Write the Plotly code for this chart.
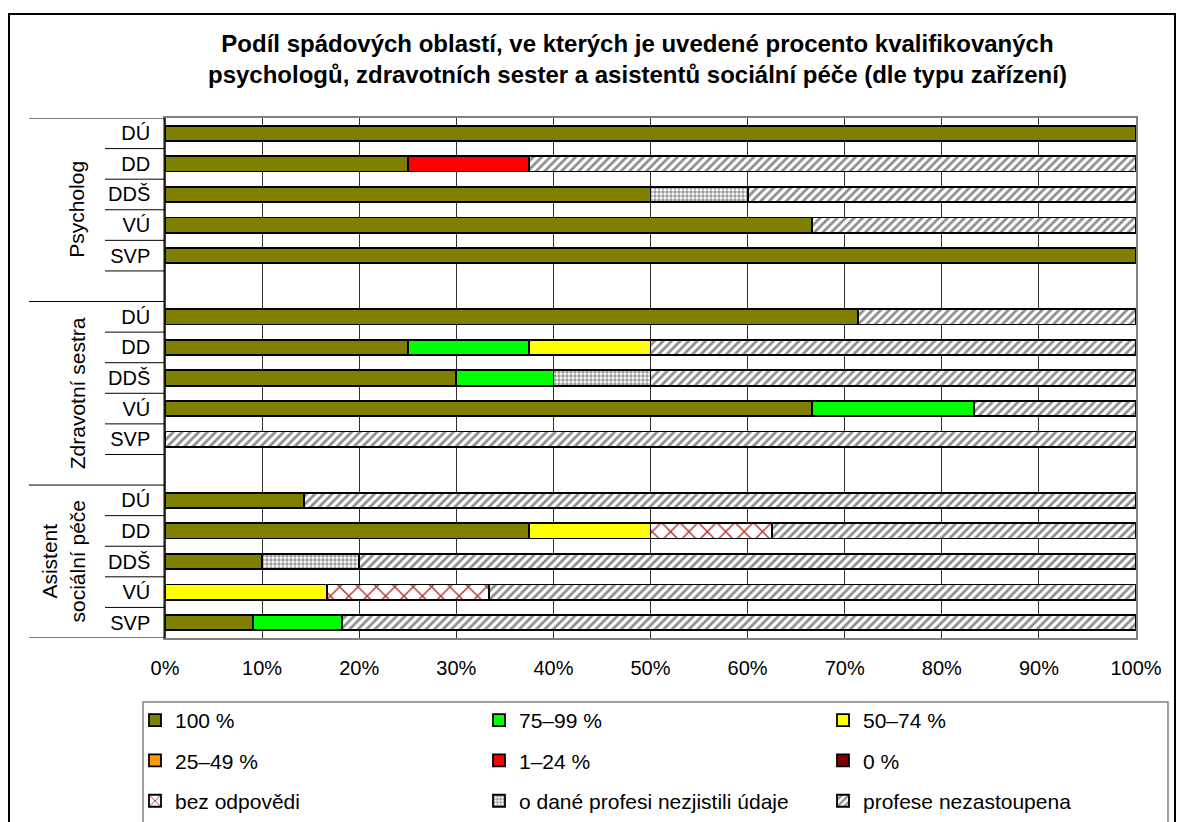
import plotly.graph_objects as go

# ---------------- data ----------------
categories = ["DÚ", "DD", "DDŠ", "VÚ", "SVP"]
groups = ["Psycholog", "Zdravotní sestra", "Asistent<br>sociální péče"]

series_names = ["100 %", "75–99 %", "50–74 %", "25–49 %", "1–24 %", "0 %",
                "bez odpovědi", "o dané profesi nezjistili údaje", "profese nezastoupena"]

# values in %, order: Psycholog (DÚ..SVP), Zdravotní sestra (DÚ..SVP), Asistent (DÚ..SVP)
v_100 = [100, 25, 50, 66.67, 100,   71.4, 25, 30, 66.67, 0,   14.3, 37.5, 10, 0, 9.1]
v_75 = [0, 0, 0, 0, 0,             0, 12.5, 10, 16.67, 0,    0, 0, 0, 0, 9.1]
v_50 = [0, 0, 0, 0, 0,             0, 12.5, 0, 0, 0,         0, 12.5, 0, 16.67, 0]
v_25 = [0, 0, 0, 0, 0,             0, 0, 0, 0, 0,            0, 0, 0, 0, 0]
v_1 = [0, 12.5, 0, 0, 0,           0, 0, 0, 0, 0,            0, 0, 0, 0, 0]
v_0 = [0, 0, 0, 0, 0,              0, 0, 0, 0, 0,            0, 0, 0, 0, 0]
v_bez = [0, 0, 0, 0, 0,            0, 0, 0, 0, 0,            0, 12.5, 0, 16.67, 0]
v_nezjist = [0, 0, 10, 0, 0,       0, 0, 10, 0, 0,           0, 0, 10, 0, 0]
v_nezast = [0, 62.5, 40, 33.33, 0, 28.6, 50, 50, 16.66, 100, 85.7, 37.5, 80, 66.66, 81.8]

x_ticks = [0, 10, 20, 30, 40, 50, 60, 70, 80, 90, 100]
x_ticktext = ["0%", "10%", "20%", "30%", "40%", "50%", "60%", "70%", "80%", "90%", "100%"]

series_values = [v_100, v_75, v_50, v_25, v_1, v_0, v_bez, v_nezjist, v_nezast]

# ---------------- styling ----------------
FONT = "Liberation Sans, Arial, sans-serif"
solid_colors = ["#808000", "#00FF00", "#FFFF00", "#FF9900", "#FF0000", "#800000"]
patterns = [
    dict(shape="x", fgcolor="#B83838", bgcolor="white", size=13, solidity=0.22, fillmode="replace"),
    dict(shape=".", fgcolor="#9A9A9A", bgcolor="white", size=4, solidity=0.55, fillmode="replace"),
    dict(shape="/", fgcolor="#8C8C8C", bgcolor="white", size=6, solidity=0.45, fillmode="replace"),
]
legend_of = ["legend", "legend2", "legend3"] * 3

# rows: each group 5 categories + an empty row between groups
rows = []
ticktext = []
for g in range(3):
    for i, c in enumerate(categories):
        rows.append(g * 6 + i)
        ticktext.append(c)

fig = go.Figure()
for k, (name, vals) in enumerate(zip(series_names, series_values)):
    if k < 6:
        marker = dict(color=solid_colors[k], line=dict(color="black", width=1.8))
    else:
        marker = dict(color="white", line=dict(color="black", width=1.8), pattern=patterns[k - 6])
    fig.add_trace(go.Bar(
        y=rows, x=vals, orientation="h", name=name, marker=marker,
        legend=legend_of[k], legendgroup=name, hoverinfo="name+x",
    ))

# ---------------- layout helpers ----------------
OFF = 8  # page body margin
W, H = 1184, 822
L, R, T, B = 157, 56, 110, 192
pw, ph = W - L - R, H - T - B


def px_x(p):
    return (p - OFF - L) / pw


def px_y(p):
    return (H - B - (p - OFF)) / ph


shapes = []
# outer frame
shapes.append(dict(type="rect", xref="paper", yref="paper", x0=px_x(9), x1=px_x(1175),
                   y0=px_y(850), y1=px_y(14), line=dict(color="black", width=2)))
# legend box
shapes.append(dict(type="rect", xref="paper", yref="paper", x0=px_x(143), x1=px_x(1168),
                   y0=px_y(850), y1=px_y(702), line=dict(color="#808080", width=1.5)))
# left axis line (black)
shapes.append(dict(type="line", xref="paper", yref="paper", x0=0, x1=0, y0=0, y1=1,
                   line=dict(color="black", width=1.5)))
# group separators
for yb in [-0.5, 5.5, 11.5, 16.5]:
    shapes.append(dict(type="line", xref="paper", yref="y", x0=px_x(29), x1=0, y0=yb, y1=yb,
                       line=dict(color="black", width=1)))
# category separators
for yb in [0.5, 1.5, 2.5, 3.5, 4.5, 6.5, 7.5, 8.5, 9.5, 10.5, 12.5, 13.5, 14.5, 15.5]:
    shapes.append(dict(type="line", xref="paper", yref="y", x0=px_x(105), x1=0, y0=yb, y1=yb,
                       line=dict(color="black", width=1)))

annotations = []
group_centers = [2.5, 8.5, 14]
group_x = [77, 77, 63]
for gname, gy, gx in zip(groups, group_centers, group_x):
    annotations.append(dict(text=gname, xref="paper", yref="y", x=px_x(gx), y=gy,
                            textangle=-90, showarrow=False, xanchor="center", yanchor="middle",
                            font=dict(family=FONT, size=21, color="black")))
# title
annotations.append(dict(
    text="<b>Podíl spádových oblastí, ve kterých je uvedené procento kvalifikovaných<br>"
         "psychologů, zdravotních sester a asistentů sociální péče (dle typu zařízení)</b>",
    xref="paper", yref="paper", x=px_x(637), y=px_y(28), xanchor="center", yanchor="top",
    align="center", showarrow=False, font=dict(family=FONT, size=24, color="black")))

legend_common = dict(y=px_y(700), yanchor="top", xanchor="left", orientation="v",
                     traceorder="grouped", tracegroupgap=10, bgcolor="rgba(0,0,0,0)",
                     borderwidth=0, font=dict(family=FONT, size=21, color="black"))

fig.update_layout(
    width=W, height=H,
    margin=dict(l=L, r=R, t=T, b=B, autoexpand=False),
    paper_bgcolor="white", plot_bgcolor="white",
    barmode="stack", bargap=0.5,
    font=dict(family=FONT, color="black"),
    xaxis=dict(range=[0, 100], tickvals=x_ticks, ticktext=x_ticktext, showgrid=True,
               gridcolor="#303030", gridwidth=1, zeroline=False, showline=True,
               linecolor="#808080", linewidth=1.5, mirror=True, ticks="",
               ticklabelstandoff=11, tickfont=dict(family=FONT, size=20, color="black"),
               fixedrange=True),
    xaxis2=dict(overlaying="x", side="top", range=[0, 100], tickvals=x_ticks,
                ticks="outside", ticklen=6, tickcolor="#404040", showticklabels=False,
                showgrid=False, zeroline=False, showline=False),
    yaxis=dict(range=[16.5, -0.5], tickvals=rows, ticktext=ticktext, showgrid=False,
               zeroline=False, showline=True, linecolor="#808080", linewidth=1.5, mirror=True,
               ticks="", ticklabelstandoff=9, tickfont=dict(family=FONT, size=20, color="black"),
               fixedrange=True),
    legend=dict(x=px_x(135), **legend_common),
    legend2=dict(x=px_x(479), **legend_common),
    legend3=dict(x=px_x(823), **legend_common),
    shapes=shapes,
    annotations=annotations,
)

fig.write_html("out.html")
